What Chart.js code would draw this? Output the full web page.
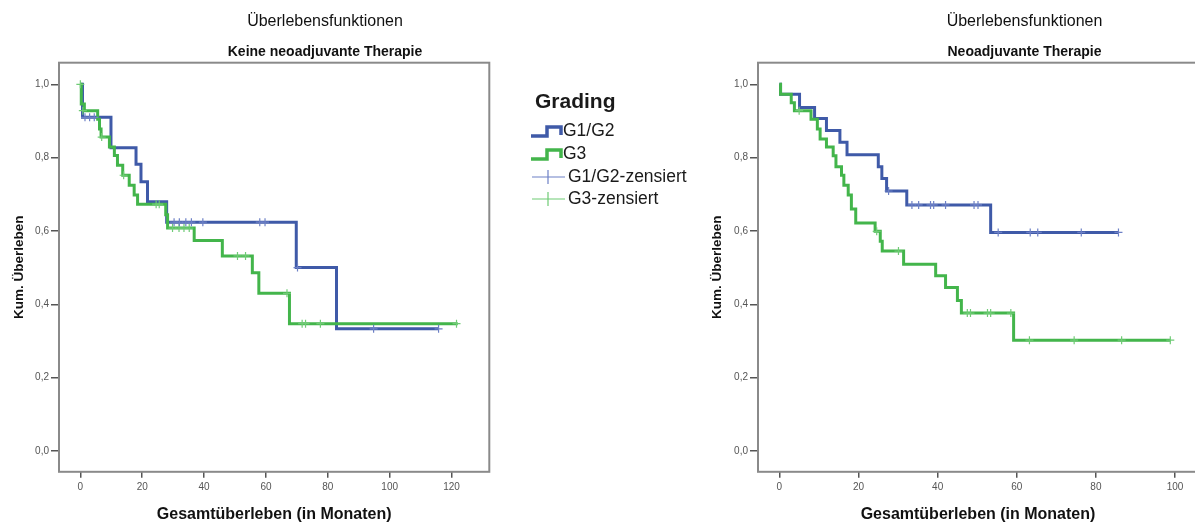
<!DOCTYPE html>
<html><head><meta charset="utf-8">
<script src="https://cdn.jsdelivr.net/npm/chart.js@4.4.1/dist/chart.umd.min.js"></script>
<style>
html,body{margin:0;padding:0;background:#fff;overflow:hidden;width:1195px;height:524px;position:relative;}
canvas{position:absolute;top:0;}
#c1{left:0;}
#c2{left:700px;}
</style></head><body>
<canvas id="c1" width="700" height="524"></canvas>
<canvas id="c2" width="649" height="524"></canvas>
<script>
// ---- texts ----
const mainTitle = 'Überlebensfunktionen';
const subTitles = ['Keine neoadjuvante Therapie', 'Neoadjuvante Therapie'];
const yAxisTitle = 'Kum. Überleben';
const xAxisTitle = 'Gesamtüberleben (in Monaten)';
const legendTitle = 'Grading';
const seriesNames = ['G1/G2', 'G3', 'G1/G2-zensiert', 'G3-zensiert'];

// ---- ticks ----
const yTickValues = [0, 0.2, 0.4, 0.6, 0.8, 1.0];
const yTickLabels = ['0,0', '0,2', '0,4', '0,6', '0,8', '1,0'];
const leftXTickValues = [0, 20, 40, 60, 80, 100, 120];
const rightXTickValues = [0, 20, 40, 60, 80, 100];

// ---- left panel: keine neoadjuvante Therapie ----
const leftG12Time = [0, 0.7, 9.9, 18.0, 19.6, 21.7, 27.9, 69.8, 82.8, 115.8];
const leftG12Surv = [1.0, 0.910, 0.827, 0.782, 0.734, 0.680, 0.624, 0.500, 0.333, 0.333];
const leftG12CensTime = [1.5, 3.0, 4.5, 30.3, 32.0, 34.1, 35.9, 39.6, 58.0, 59.7, 70.2, 94.8, 115.8];
const leftG12CensSurv = [0.910, 0.910, 0.910, 0.624, 0.624, 0.624, 0.624, 0.624, 0.624, 0.624, 0.500, 0.333, 0.333];

const leftG3Time = [0, 0.3, 1.3, 5.6, 6.2, 6.7, 9.4, 11.0, 12.0, 13.7, 15.8, 17.4, 18.5, 27.6, 28.2, 36.8, 45.9, 55.6, 57.7, 67.6, 122.0];
const leftG3Surv = [1.0, 0.946, 0.928, 0.905, 0.878, 0.856, 0.829, 0.806, 0.779, 0.752, 0.725, 0.698, 0.673, 0.644, 0.608, 0.574, 0.532, 0.486, 0.430, 0.347, 0.347];
const leftG3CensTime = [0, 0.8, 6.9, 14.0, 24.5, 25.5, 29.8, 31.9, 33.5, 35.2, 50.8, 53.4, 66.8, 71.7, 72.8, 77.6, 121.6];
const leftG3CensSurv = [1.0, 0.928, 0.856, 0.752, 0.673, 0.673, 0.608, 0.608, 0.608, 0.608, 0.532, 0.532, 0.430, 0.347, 0.347, 0.347, 0.347];

// ---- right panel: neoadjuvante Therapie ----
const rightG12Time = [0, 0.3, 5.1, 8.9, 11.9, 15.3, 17.1, 25.0, 25.9, 27.1, 32.2, 53.4, 85.7];
const rightG12Surv = [1.0, 0.973, 0.937, 0.907, 0.874, 0.842, 0.808, 0.775, 0.743, 0.709, 0.671, 0.596, 0.596];
const rightG12CensTime = [27.6, 33.5, 35.2, 38.2, 39.0, 42.0, 49.2, 50.2, 55.3, 63.4, 65.3, 76.3, 85.7];
const rightG12CensSurv = [0.709, 0.671, 0.671, 0.671, 0.671, 0.671, 0.671, 0.671, 0.596, 0.596, 0.596, 0.596, 0.596];

const rightG3Time = [0, 0.3, 3.0, 3.8, 8.0, 9.6, 10.3, 11.9, 13.6, 14.3, 15.7, 16.3, 17.4, 18.2, 19.3, 24.2, 25.5, 26.0, 31.4, 39.5, 42.0, 45.0, 46.0, 59.2, 98.8];
const rightG3Surv = [1.0, 0.973, 0.950, 0.928, 0.905, 0.878, 0.851, 0.829, 0.805, 0.775, 0.752, 0.725, 0.698, 0.660, 0.622, 0.599, 0.572, 0.545, 0.509, 0.478, 0.446, 0.410, 0.376, 0.302, 0.302];
const rightG3CensTime = [5.0, 24.6, 30.1, 47.5, 48.3, 52.6, 53.4, 58.5, 63.2, 74.5, 86.5, 98.8];
const rightG3CensSurv = [0.928, 0.599, 0.545, 0.376, 0.376, 0.376, 0.376, 0.376, 0.302, 0.302, 0.302, 0.302];

// ---- styles ----
const FONT = "'Liberation Sans', Arial, sans-serif";
const BLUE = '#3f5aa8';
const GREEN = '#43b54b';
const BLUE_C = '#6d80c6';
const GREEN_C = '#6fcb75';

function pts(t, s) { return t.map((v, i) => ({ x: v, y: s[i] })); }

const framePlugin = {
  id: 'frame',
  beforeDatasetsDraw(chart) {
    const a = chart.chartArea, ctx = chart.ctx;
    ctx.save();
    ctx.strokeStyle = '#8a8a8a';
    ctx.lineWidth = 2;
    ctx.strokeRect(a.left, a.top, a.right - a.left, a.bottom - a.top);
    ctx.restore();
  }
};

const legendPlugin = {
  id: 'kmLegend',
  afterDraw(chart) {
    const ctx = chart.ctx;
    ctx.save();
    ctx.fillStyle = '#1a1a1a';
    ctx.textBaseline = 'middle';
    ctx.textAlign = 'left';
    ctx.font = 'bold 21px ' + FONT;
    ctx.fillText(legendTitle, 535, 102);
    const rows = [131, 154, 177, 199];
    // step icons
    [[BLUE, rows[0]], [GREEN, rows[1]]].forEach(([c, y]) => {
      ctx.strokeStyle = c; ctx.lineWidth = 3.5; ctx.lineJoin = 'miter';
      ctx.beginPath();
      ctx.moveTo(531, y + 5); ctx.lineTo(547, y + 5); ctx.lineTo(547, y - 4);
      ctx.lineTo(561, y - 4); ctx.lineTo(561, y + 4);
      ctx.stroke();
    });
    // censor icons
    [[BLUE_C, rows[2]], [GREEN_C, rows[3]]].forEach(([c, y]) => {
      ctx.strokeStyle = c; ctx.lineWidth = 1.2;
      ctx.beginPath();
      ctx.moveTo(532, y); ctx.lineTo(565, y);
      ctx.moveTo(548, y - 7); ctx.lineTo(548, y + 7);
      ctx.stroke();
    });
    ctx.fillStyle = '#1a1a1a';
    ctx.font = '17.5px ' + FONT;
    ctx.fillText(seriesNames[0], 563, rows[0]);
    ctx.fillText(seriesNames[1], 563, rows[1]);
    ctx.fillText(seriesNames[2], 568, rows[2]);
    ctx.fillText(seriesNames[3], 568, rows[3]);
    ctx.restore();
  }
};

function makeChart(id, cfg) {
  const tickGrid = (len) => ({ display: true, drawOnChartArea: false, drawTicks: true, tickLength: len, color: '#555', lineWidth: 1.5 });
  const datasets = [
    { type: 'line', label: seriesNames[0], data: pts(cfg.g12t, cfg.g12s), stepped: 'before', borderColor: BLUE, borderWidth: 3, pointRadius: 0, fill: false, order: 2 },
    { type: 'line', label: seriesNames[1], data: pts(cfg.g3t, cfg.g3s), stepped: 'before', borderColor: GREEN, borderWidth: 3, pointRadius: 0, fill: false, order: 1 },
    { type: 'scatter', label: seriesNames[2], data: pts(cfg.g12ct, cfg.g12cs), pointStyle: 'cross', pointRadius: 4, borderColor: BLUE_C, borderWidth: 1.2, showLine: false, order: 0 },
    { type: 'scatter', label: seriesNames[3], data: pts(cfg.g3ct, cfg.g3cs), pointStyle: 'cross', pointRadius: 4, borderColor: GREEN_C, borderWidth: 1.2, showLine: false, order: 0 }
  ];
  return new Chart(document.getElementById(id), {
    type: 'line',
    data: { datasets },
    options: {
      responsive: false, animation: false, events: [],
      layout: { padding: { top: 0, right: cfg.padRight, bottom: 0, left: 0 } },
      plugins: {
        legend: { display: false }, tooltip: { enabled: false },
        title: { display: true, text: mainTitle, fullSize: true, font: { family: FONT, size: 16, weight: 'normal' }, color: '#111', padding: { top: 12.4, bottom: 0 } },
        subtitle: { display: true, text: cfg.sub, fullSize: true, font: { family: FONT, size: 14, weight: 'bold' }, color: '#111', padding: { top: 12, bottom: 2.3 } }
      },
      scales: {
        x: {
          type: 'linear', min: cfg.xmin, max: cfg.xmax,
          afterBuildTicks: s => { s.ticks = cfg.xticks.map(v => ({ value: v })); },
          grid: tickGrid(6), border: { display: false },
          ticks: { font: { family: FONT, size: 10 }, color: '#555', padding: 3, maxRotation: 0, autoSkip: false, callback: (v, i) => String(cfg.xticks[i]) },
          title: { display: true, text: xAxisTitle, font: { family: FONT, size: 16, weight: 'bold' }, color: '#111', padding: { top: 9, bottom: 0 } }
        },
        y: {
          type: 'linear', min: -0.057, max: 1.059,
          afterBuildTicks: s => { s.ticks = yTickValues.map(v => ({ value: v })); },
          afterFit: s => { s.width = cfg.yw; },
          grid: tickGrid(8), border: { display: false },
          ticks: { font: { family: FONT, size: 10 }, color: '#555', padding: 2, autoSkip: false, callback: (v, i) => yTickLabels[i] },
          title: { display: true, text: yAxisTitle, font: { family: FONT, size: 13.5, weight: 'bold' }, color: '#111', padding: { top: cfg.ytp, bottom: 0 } }
        },
        yR: {
          type: 'linear', axis: 'y', position: 'right', display: true,
          afterFit: s => { s.width = cfg.rightSpace; },
          grid: { display: false }, border: { display: false }, ticks: { display: false }, title: { display: false }
        }
      }
    },
    plugins: cfg.legend ? [framePlugin, legendPlugin] : [framePlugin]
  });
}

makeChart('c1', {
  sub: subTitles[0], xmin: -6.9, xmax: 132.2, xticks: leftXTickValues, yw: 59, ytp: 11, padRight: 50, rightSpace: 160.7, legend: true,
  g12t: leftG12Time, g12s: leftG12Surv, g12ct: leftG12CensTime, g12cs: leftG12CensSurv,
  g3t: leftG3Time, g3s: leftG3Surv, g3ct: leftG3CensTime, g3cs: leftG3CensSurv
});
makeChart('c2', {
  sub: subTitles[1], xmin: -5.4, xmax: 105.8, xticks: rightXTickValues, yw: 58, ytp: 9, padRight: 0, rightSpace: 151, legend: false,
  g12t: rightG12Time, g12s: rightG12Surv, g12ct: rightG12CensTime, g12cs: rightG12CensSurv,
  g3t: rightG3Time, g3s: rightG3Surv, g3ct: rightG3CensTime, g3cs: rightG3CensSurv
});
</script>
</body></html>
